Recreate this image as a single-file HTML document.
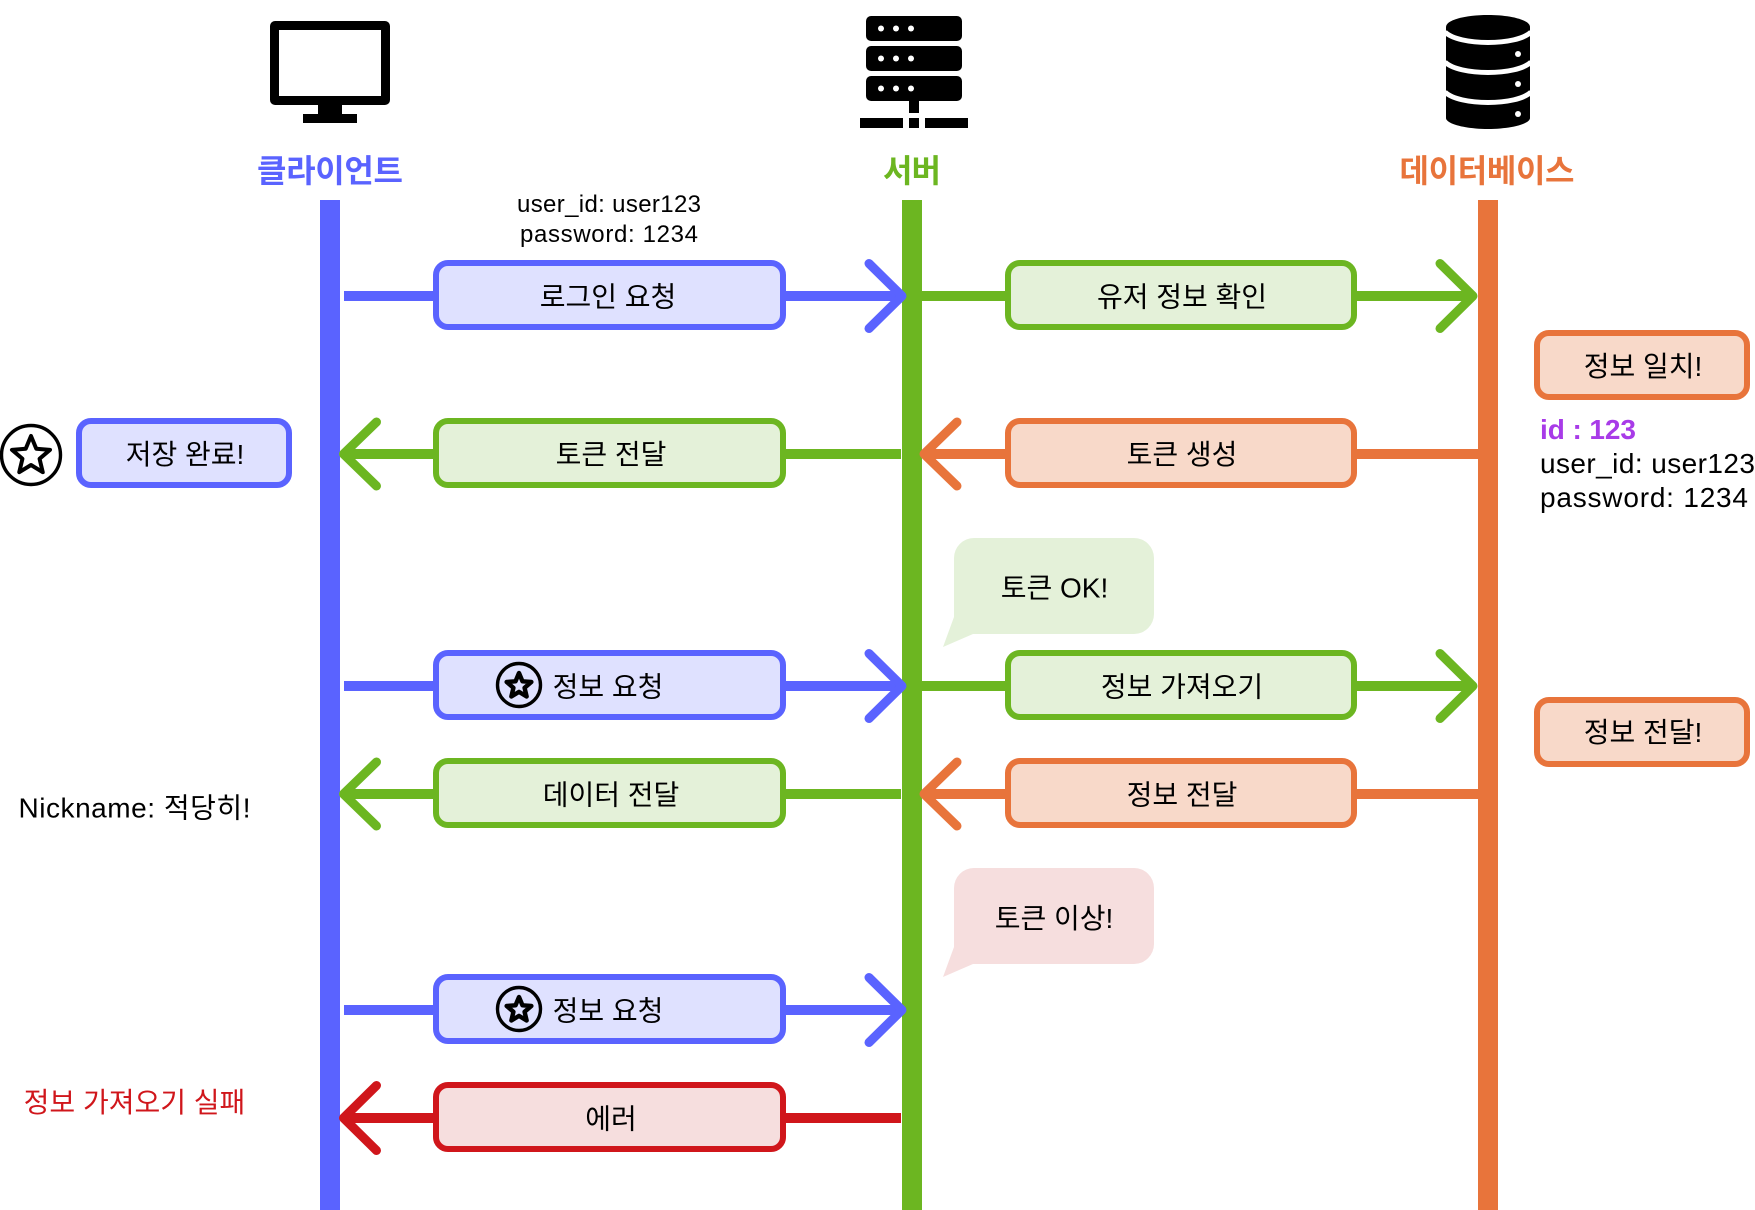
<!DOCTYPE html>
<html><head><meta charset="utf-8">
<style>
html,body{margin:0;padding:0;background:#fff;width:1755px;height:1210px;overflow:hidden}
svg{display:block}
text{font-family:"Liberation Sans","Noto Sans CJK KR",sans-serif;font-size:28px;fill:#000;text-anchor:middle}
.t{font-weight:700;font-size:32px}
.l{text-anchor:start}
.b{stroke:#5A63FF;fill:#DFE1FF}.g{stroke:#6CB621;fill:#E4F1D9}.o{stroke:#E8743B;fill:#F8D9C9}.r{stroke:#D0161B;fill:#F6DEDE}
rect.box{stroke-width:6}
.ln{fill:none;stroke-width:10;stroke-linecap:butt}
.hd{fill:none;stroke-width:9;stroke-linecap:round;stroke-linejoin:round}
</style></head><body>
<svg width="1755" height="1210" viewBox="0 0 1755 1210" xmlns="http://www.w3.org/2000/svg">
<defs>
<polygon id="s" points="0,-1 .2645,-.364 .951,-.309 .428,.139 .588,.809 0,.45 -.588,.809 -.428,.139 -.951,-.309 -.2645,-.364"/>
</defs>
<!-- icons -->
<path fill-rule="evenodd" d="M275 21H385a5 5 0 0 1 5 5V100a5 5 0 0 1-5 5H275a5 5 0 0 1-5-5V26a5 5 0 0 1 5-5ZM279 30V96H381V30Z"/>
<rect x="318" y="105" width="24" height="9"/><rect x="303" y="114" width="54" height="9"/>
<rect x="866" y="16" width="96" height="25" rx="5"/><rect x="866" y="46" width="96" height="25" rx="5"/><rect x="866" y="76" width="96" height="25" rx="5"/>
<g fill="#fff"><circle cx="881" cy="28.5" r="3"/><circle cx="896" cy="28.5" r="3"/><circle cx="911" cy="28.5" r="3"/><circle cx="881" cy="58.5" r="3"/><circle cx="896" cy="58.5" r="3"/><circle cx="911" cy="58.5" r="3"/><circle cx="881" cy="88.5" r="3"/><circle cx="896" cy="88.5" r="3"/><circle cx="911" cy="88.5" r="3"/></g>
<rect x="909" y="101" width="10" height="12"/><rect x="860" y="118" width="43" height="10"/><rect x="909" y="118" width="10" height="10"/><rect x="925" y="118" width="43" height="10"/>
<path d="M1446 27C1446 20 1465 15 1488 15S1530 20 1530 27V118C1530 124 1510 129 1488 129S1446 124 1446 118Z"/>
<g fill="none" stroke="#fff" stroke-width="5"><path d="M1445 32C1452 39 1470 42.5 1488 42.5S1524 39 1531 32"/><path d="M1445 62C1452 69 1470 72.5 1488 72.5S1524 69 1531 62"/><path d="M1445 92C1452 99 1470 102.5 1488 102.5S1524 99 1531 92"/></g>
<g fill="#fff"><circle cx="1518" cy="54" r="3"/><circle cx="1518" cy="84" r="3"/><circle cx="1518" cy="114" r="3"/></g>
<!-- titles -->
<text class="t" x="330" y="182" style="fill:#5A63FF" textLength="146">클라이언트</text>
<text class="t" x="912" y="182" style="fill:#6CB621" textLength="58">서버</text>
<text class="t" x="1487" y="182" style="fill:#E8743B" textLength="175">데이터베이스</text>
<!-- lifelines -->
<rect x="320" y="200" width="20" height="1010" fill="#5A63FF"/>
<rect x="902" y="200" width="20" height="1010" fill="#6CB621"/>
<rect x="1478" y="200" width="20" height="1010" fill="#E8743B"/>
<!-- connectors -->
<path class="ln" stroke="#6CB621" d="M922 296H1472"/><path class="hd" stroke="#6CB621" d="M1440 263.5L1473 296L1440 328.5"/>
<path class="ln" stroke="#5A63FF" d="M344 296H900"/><path class="hd" stroke="#5A63FF" d="M869 263.5L902 296L869 328.5"/>
<path class="ln" stroke="#6CB621" d="M350 454H901"/><path class="hd" stroke="#6CB621" d="M376.5 422L343.5 454L376.5 486"/>
<path class="ln" stroke="#E8743B" d="M930 454H1478"/><path class="hd" stroke="#E8743B" d="M957 422L924 454L957 486"/>
<path class="ln" stroke="#6CB621" d="M922 686H1472"/><path class="hd" stroke="#6CB621" d="M1440 653.5L1473 686L1440 718.5"/>
<path class="ln" stroke="#5A63FF" d="M344 686H900"/><path class="hd" stroke="#5A63FF" d="M869 653.5L902 686L869 718.5"/>
<path class="ln" stroke="#6CB621" d="M350 794H901"/><path class="hd" stroke="#6CB621" d="M376.5 762L343.5 794L376.5 826"/>
<path class="ln" stroke="#E8743B" d="M930 794H1478"/><path class="hd" stroke="#E8743B" d="M957 762L924 794L957 826"/>
<path class="ln" stroke="#5A63FF" d="M344 1010H900"/><path class="hd" stroke="#5A63FF" d="M869 977.5L902 1010L869 1042.5"/>
<path class="ln" stroke="#D0161B" d="M350 1118H901"/><path class="hd" stroke="#D0161B" d="M376.5 1085.5L343.5 1118L376.5 1150.5"/>
<!-- boxes -->
<rect class="box b" x="436" y="263" width="347" height="64" rx="12"/>
<rect class="box g" x="1008" y="263" width="346" height="64" rx="12"/>
<rect class="box o" x="1537" y="333" width="210" height="64" rx="12"/>
<rect class="box b" x="79" y="421" width="210" height="64" rx="12"/>
<rect class="box g" x="436" y="421" width="347" height="64" rx="12"/>
<rect class="box o" x="1008" y="421" width="346" height="64" rx="12"/>
<rect class="box b" x="436" y="653" width="347" height="64" rx="12"/>
<rect class="box g" x="1008" y="653" width="346" height="64" rx="12"/>
<rect class="box o" x="1537" y="700" width="210" height="64" rx="12"/>
<rect class="box g" x="436" y="761" width="347" height="64" rx="12"/>
<rect class="box o" x="1008" y="761" width="346" height="64" rx="12"/>
<rect class="box b" x="436" y="977" width="347" height="64" rx="12"/>
<rect class="box r" x="436" y="1085" width="347" height="64" rx="12"/>
<!-- bubbles -->
<path fill="#E4F1D9" d="M974 538H1134a20 20 0 0 1 20 20V614a20 20 0 0 1-20 20H973L943 647L954 617V558a20 20 0 0 1 20-20Z"/>
<path fill="#F6DEDE" d="M974 868H1134a20 20 0 0 1 20 20V944a20 20 0 0 1-20 20H973L943 977L954 947V888a20 20 0 0 1 20-20Z"/>
<!-- star icons -->
<circle cx="31" cy="455" r="29.5" fill="#fff" stroke="#000" stroke-width="3.4"/>
<use href="#s" transform="translate(31 456) scale(20)" fill="none" stroke="#000" stroke-width=".2" stroke-linejoin="round"/>
<circle cx="519" cy="685" r="21.5" fill="none" stroke="#000" stroke-width="3.4"/>
<use href="#s" transform="translate(519 686) scale(13)" fill="none" stroke="#000" stroke-width=".34" stroke-linejoin="round"/>
<circle cx="519" cy="1009" r="21.5" fill="none" stroke="#000" stroke-width="3.4"/>
<use href="#s" transform="translate(519 1010) scale(13)" fill="none" stroke="#000" stroke-width=".34" stroke-linejoin="round"/>
<!-- labels -->
<text x="609" y="212" style="font-size:24px" textLength="184">user_id: user123</text>
<text x="609" y="242" style="font-size:24px" textLength="178">password: 1234</text>
<text x="608" y="306.5">로그인 요청</text>
<text x="1182" y="306.5">유저 정보 확인</text>
<text x="1643" y="376">정보 일치!</text>
<text x="185" y="464">저장 완료!</text>
<text x="611" y="464">토큰 전달</text>
<text x="1182" y="464">토큰 생성</text>
<text x="1054.5" y="597.5">토큰 OK!</text>
<text x="608" y="696.5">정보 요청</text>
<text x="1182" y="696.5">정보 가져오기</text>
<text x="1643" y="742">정보 전달!</text>
<text x="611" y="804.5">데이터 전달</text>
<text x="1182" y="804.5">정보 전달</text>
<text x="134.5" y="817.5" textLength="232">Nickname: 적당히!</text>
<text x="1054" y="928">토큰 이상!</text>
<text x="608" y="1020.5">정보 요청</text>
<text x="134.5" y="1112" style="fill:#D0161B">정보 가져오기 실패</text>
<text x="611" y="1128.5">에러</text>
<text class="l" x="1540" y="439" style="fill:#A83BE8;font-weight:700" textLength="96">id : 123</text>
<text class="l" x="1540" y="473" textLength="215">user_id: user123</text>
<text class="l" x="1540" y="507" textLength="208">password: 1234</text>
</svg>
</body></html>
